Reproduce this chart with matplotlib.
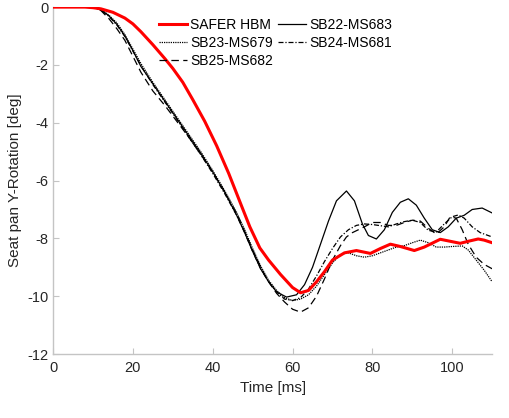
import matplotlib.pyplot as plt

plt.rcParams['font.family'] = ['Liberation Sans', 'DejaVu Sans']

# SAFER HBM (red)
t_safer = [0, 8, 10, 12, 15, 18, 20, 22, 25, 28, 30, 32.5, 35, 38, 41, 44, 47, 49.3, 51.8, 54, 57, 60, 62,
           64, 66, 68, 70, 73, 76, 79.5, 82, 84.5, 87, 90.5, 93, 97, 99.5, 102, 104, 106.5, 108, 110]
y_safer = [0, 0, -0.02, -0.06, -0.18, -0.38, -0.58, -0.85, -1.3, -1.78, -2.12, -2.6, -3.2, -3.95, -4.8, -5.75,
           -6.8, -7.6, -8.33, -8.75, -9.25, -9.7, -9.88, -9.8, -9.5, -9.15, -8.75, -8.5, -8.42, -8.52, -8.35,
           -8.2, -8.28, -8.42, -8.3, -8.03, -8.1, -8.17, -8.1, -8.02, -8.06, -8.15]

# SB22-MS683 (solid)
t_sb22 = [0, 10, 12, 14, 16, 18, 20, 22, 25, 28, 31, 34, 37, 40, 43, 46, 48, 50, 52, 54, 56, 58.5, 61, 63, 65,
          67, 69, 71, 73.5, 75.5, 77.5, 79, 81, 83, 85, 87, 89, 91, 93, 95, 97, 99, 101, 103, 105, 107.5, 110]
y_sb22 = [0, 0, -0.1, -0.3, -0.6, -1.0, -1.5, -2.05, -2.65, -3.25, -3.85, -4.45, -5.05, -5.7, -6.4, -7.2, -7.8,
          -8.45, -9.05, -9.5, -9.85, -10.03, -9.95, -9.6, -9.0, -8.2, -7.4, -6.7, -6.36, -6.7, -7.5, -7.9, -8.02,
          -7.7, -7.1, -6.75, -6.63, -6.85, -7.3, -7.7, -7.8, -7.6, -7.3, -7.2, -7.0, -6.95, -7.12]

# SB23-MS679 (dotted)
t_sb23 = [0, 10, 12, 14, 16, 18, 20, 22, 25, 28, 31, 34, 37, 40, 43, 46, 48, 50, 52, 54, 56, 58, 60, 62, 64,
          66, 68, 70, 72, 74, 76, 78, 80, 82, 84, 86, 88, 90, 92, 94, 96, 98, 100, 102.5, 104, 106, 108, 110]
y_sb23 = [0, 0, -0.08, -0.28, -0.55, -0.95, -1.45, -1.95, -2.6, -3.2, -3.8, -4.4, -5.0, -5.65, -6.35, -7.1,
          -7.7, -8.35, -8.95, -9.45, -9.8, -10.05, -10.15, -10.1, -9.95, -9.65, -9.25, -8.85, -8.55, -8.5,
          -8.6, -8.65, -8.6, -8.5, -8.4, -8.3, -8.25, -8.15, -8.06, -8.15, -8.3, -8.3, -8.28, -8.26, -8.4,
          -8.75, -9.1, -9.5]

# SB24-MS681 (dash-dot)
t_sb24 = [0, 10, 12, 14, 16, 18, 20, 22, 25, 28, 31, 34, 37, 40, 43, 46, 48, 50, 52, 54, 56, 58, 60, 62, 64,
          66, 68, 70, 72, 74, 76, 78, 80, 82, 84, 86, 88, 90, 92, 94, 96, 98, 100, 101.5, 103, 105, 107, 110]
y_sb24 = [0, 0, -0.1, -0.32, -0.62, -1.02, -1.52, -2.02, -2.68, -3.28, -3.88, -4.5, -5.1, -5.75, -6.45, -7.2,
          -7.8, -8.45, -9.05, -9.5, -9.85, -10.1, -10.15, -10.05, -9.75, -9.3, -8.8, -8.35, -7.95, -7.7,
          -7.55, -7.5, -7.52, -7.56, -7.6, -7.5, -7.42, -7.37, -7.45, -7.72, -7.78, -7.5, -7.25, -7.19, -7.3,
          -7.6, -7.8, -7.95]

# SB25-MS682 (dashed)
t_sb25 = [0, 10, 12, 14, 16, 18, 20, 22, 25, 28, 31, 34, 37, 40, 43, 46, 48, 50, 52, 54, 56, 58, 60, 62, 64,
          66, 68, 70, 72, 73.5, 75, 76.5, 78, 80, 82, 84, 86, 88, 90, 92, 94, 96, 98, 99.5, 101, 102.5, 104,
          106, 108, 110]
y_sb25 = [0, 0, -0.12, -0.4, -0.75, -1.15, -1.7, -2.25, -2.9, -3.4, -3.95, -4.5, -5.1, -5.7, -6.4, -7.15,
          -7.75, -8.4, -9.0, -9.5, -9.9, -10.2, -10.45, -10.55, -10.4, -10.0, -9.4, -8.75, -8.25, -7.95, -7.8,
          -7.7, -7.6, -7.45, -7.45, -7.55, -7.55, -7.45, -7.37, -7.4, -7.65, -7.85, -7.6, -7.25, -7.3, -7.7,
          -8.2, -8.65, -8.9, -9.05]

fig = plt.figure(figsize=(5.1, 4.18), dpi=100)
ax = fig.add_axes([0.104, 0.153, 0.861, 0.83])

l_safer, = ax.plot(t_safer, y_safer, color='#ff0000', lw=2.2, label='SAFER HBM', zorder=5)
l22, = ax.plot(t_sb22, y_sb22, color='black', lw=0.9, ls='-', label='SB22-MS683')
l23, = ax.plot(t_sb23, y_sb23, color='black', lw=0.9, ls=(0, (1, 0.8)), label='SB23-MS679')
l24, = ax.plot(t_sb24, y_sb24, color='black', lw=0.9, ls=(0, (4, 1.5, 1, 1.5)), label='SB24-MS681')
l25, = ax.plot(t_sb25, y_sb25, color='black', lw=0.9, ls=(0, (6, 3.5)), label='SB25-MS682')

ax.set_xlim(0, 110)
ax.set_ylim(-12, 0)
ax.set_xticks([0, 20, 40, 60, 80, 100])
ax.set_yticks([-12, -10, -8, -6, -4, -2, 0])
ax.set_yticklabels(['-12', '-10', '-8', '-6', '-4', '-2', '0'])
ax.set_xlabel('Time [ms]', fontsize=11, color='#262626', labelpad=4)
ax.set_ylabel('Seat pan Y-Rotation [deg]', fontsize=11, color='#262626', labelpad=4)

for side in ['top', 'right']:
    ax.spines[side].set_visible(False)
for side in ['left', 'bottom']:
    ax.spines[side].set_color('#c4c4c4')
    ax.spines[side].set_linewidth(1.0)
ax.tick_params(direction='in', length=4, color='#c4c4c4', labelsize=10.5, labelcolor='#262626')
ax.tick_params(axis='x', pad=5)
ax.tick_params(axis='y', pad=3)

ax.legend(handles=[l_safer, l23, l25, l22, l24], ncol=2, frameon=False, fontsize=10,
          loc='upper left', bbox_to_anchor=(0.22, 0.997), handlelength=2.0, handletextpad=0.2,
          columnspacing=0.4, labelspacing=0.28, borderpad=0.2)

fig.savefig('out.png', dpi=100)
